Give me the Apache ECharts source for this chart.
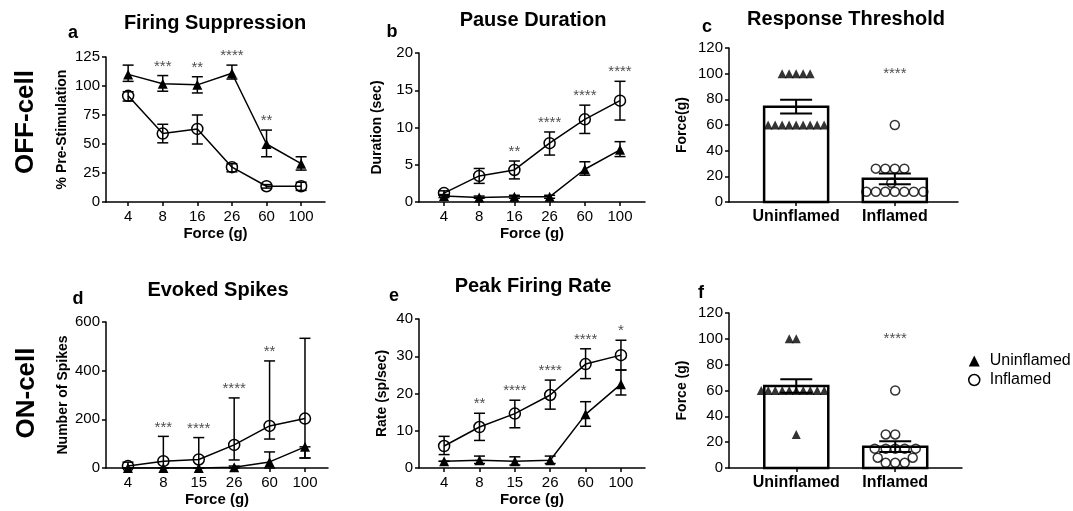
<!DOCTYPE html>
<html><head><meta charset="utf-8">
<script src="https://cdn.jsdelivr.net/npm/echarts/dist/echarts.min.js"></script>
<style>html,body{margin:0;padding:0;background:#fff}#c{width:1073px;height:511px}</style>
</head><body><div id="c"></div>
<script>
// ---------- DATA ----------
const forceTop = ['4','8','16','26','60','100'];
const forceBottom = ['4','8','15','26','60','100'];
const groupLabels = ['Uninflamed','Inflamed'];

// a: Firing Suppression (% Pre-Stimulation)
const aUnMean = [110,102,101,111,50,33];
const aUnLow  = [104,95.5,94,106,39,27.5];
const aUnHigh = [118,109,108,118,62,39];
const aInMean = [91.5,59,63,30,13.6,13.6];
const aInLow  = [87,51,50,26,12,10];
const aInHigh = [95,67,75,33,15,17];
const aStars  = ['','***','**','****','**',''];

// b: Pause Duration (sec)
const bUnMean = [0.8,0.6,0.7,0.7,4.4,7.0];
const bUnLow  = [0.6,0.5,0.5,0.5,3.6,6.1];
const bUnHigh = [1.0,0.8,0.9,0.9,5.4,8.1];
const bInMean = [1.2,3.5,4.3,7.9,11.1,13.6];
const bInLow  = [0.9,2.5,3.1,6.3,9.2,11.0];
const bInHigh = [1.5,4.5,5.5,9.4,13.0,16.2];
const bStars  = ['','','**','****','****','****'];

// c: Response Threshold (individual cells, g)
const cUnVals = [100,100,100,100,100,60,60,60,60,60,60,60,60,60];
const cInVals = [60,26,26,26,26,15,8,8,8,8,8,8,8];
const cStar = '****';

// d: Evoked Spikes
const dUnMean = [0,0,0,3,25,87];
const dUnLow  = [0,0,0,0,0,41];
const dUnHigh = [0,0,0,8,66,87];
const dInMean = [8,28,35,95,173,203];
const dInLow  = [0,0,0,33,119,41];
const dInHigh = [24,130,125,288,440,533];
const dStars  = ['','***','****','****','**',''];

// e: Peak Firing Rate (sp/sec)
const eUnMean = [1.8,2.1,1.8,2.1,14.4,22.5];
const eUnLow  = [1.8,1.2,0.8,1.2,11.2,19.6];
const eUnHigh = [1.8,3.2,3.0,3.2,17.8,26.3];
const eInMean = [5.9,11,14.6,19.6,27.9,30.3];
const eInLow  = [3.6,7.4,10.8,15.8,24,26.3];
const eInHigh = [8.5,14.7,18.2,23.6,32,34.3];
const eStars  = ['','**','****','****','****','*'];

// f: ON-cell threshold (g)
const fUnVals = [100,100,60,60,60,60,60,60,60,60,60,60,26];
const fInVals = [60,26,26,15,15,15,15,15,8,8,4,4,4];
const fStar = '****';

// ---------- HELPERS ----------
const FONT = '"Liberation Sans", Arial, Helvetica, sans-serif';
const BLACK = '#000';

const grids = [
  {left:106, top:57,  width:219, height:145},
  {left:419, top:53,  width:226, height:149},
  {left:729, top:48,  width:229, height:154},
  {left:106, top:322, width:222, height:146},
  {left:419, top:319, width:226, height:149},
  {left:729, top:313, width:233, height:155}
];
const xRanges = [[-0.64,5.69],[-0.71,5.71],[-0.68,1.64],[-0.62,5.65],[-0.71,5.68],[-0.68,1.675]];
const yMax = [125,20,120,600,40,120];

function mkX(i, labels, name, catBold){
  const vals = labels.map((_,k)=>k);
  return {
    type:'value', gridIndex:i, min:xRanges[i][0], max:xRanges[i][1],
    axisLine:{show:true, onZero:false, lineStyle:{color:BLACK, width:1.5}},
    axisTick:{show:true, customValues:vals, length:4, lineStyle:{color:BLACK, width:1.5}},
    axisLabel:{show:true, customValues:vals, formatter:v=>labels[Math.round(v)], color:BLACK,
      fontSize: catBold?16:15, fontWeight: catBold?'bold':'normal', fontFamily:FONT, margin:7},
    splitLine:{show:false},
    name:name||'', nameLocation:'middle', nameGap:24,
    nameTextStyle:{fontSize:15, fontWeight:'bold', color:BLACK, fontFamily:FONT}
  };
}
function mkY(i, interval, name, gap){
  return {
    type:'value', gridIndex:i, min:0, max:yMax[i], interval:interval,
    axisLine:{show:true, onZero:false, lineStyle:{color:BLACK, width:1.5}},
    axisTick:{show:true, length:4, lineStyle:{color:BLACK, width:1.5}},
    axisLabel:{color:BLACK, fontSize:15, fontFamily:FONT, margin:6},
    splitLine:{show:false},
    name:name, nameLocation:'middle', nameGap:gap,
    nameTextStyle:{fontSize:14, fontWeight:'bold', color:BLACK, fontFamily:FONT}
  };
}
function errRender(capPx, lw){
  return function(params, api){
    const x = api.value(0), lo = api.value(1), hi = api.value(2);
    const a = api.coord([x, lo]), b = api.coord([x, hi]);
    const h = capPx/2;
    const st = {stroke:BLACK, lineWidth:lw, fill:null};
    return {type:'group', children:[
      {type:'line', shape:{x1:a[0],y1:a[1],x2:b[0],y2:b[1]}, style:st},
      {type:'line', shape:{x1:a[0]-h,y1:a[1],x2:a[0]+h,y2:a[1]}, style:st},
      {type:'line', shape:{x1:b[0]-h,y1:b[1],x2:b[0]+h,y2:b[1]}, style:st}
    ]};
  };
}
function errSeries(i, low, high, capPx, lw, z){
  return {type:'custom', xAxisIndex:i, yAxisIndex:i, silent:true, z:z||2, clip:false,
    encode:{x:0, y:[1,2]},
    data: low.map((l,k)=>[k, l, high[k]]), renderItem: errRender(capPx, lw)};
}
function lineSeries(i, mean, kind, name){
  const tri = kind==='tri';
  return {type:'line', name:name, xAxisIndex:i, yAxisIndex:i, silent:true, z:3,
    data: mean.map((v,k)=>[k,v]),
    symbol: tri?'triangle':'circle', symbolSize: tri?10:11,
    lineStyle:{color:BLACK, width:1.5},
    itemStyle: tri?{color:BLACK}:{color:'rgba(0,0,0,0)', borderColor:BLACK, borderWidth:1.5},
    emphasis:{disabled:true}};
}
function starSeries(i, data, offsetY){
  return {type:'scatter', xAxisIndex:i, yAxisIndex:i, silent:true, z:5,
    symbol:'circle', symbolSize:0, data:data,
    label:{show:true, position:'inside', offset:[0,offsetY], formatter:'{b}', color:'#222',
      fontSize:15, fontFamily:FONT}};
}
function lineStars(stars, unHigh, inHigh){
  const out = [];
  stars.forEach((s,k)=>{ if(s) out.push({name:s, value:[k, Math.max(unHigh[k], inHigh[k])]}); });
  return out;
}
function linePanel(i, un, unLo, unHi, inn, inLo, inHi, stars, names){
  return [
    errSeries(i, unLo, unHi, 11, 1.5),
    errSeries(i, inLo, inHi, 11, 1.5),
    lineSeries(i, un, 'tri', names?names[0]:'un'+i),
    lineSeries(i, inn, 'circ', names?names[1]:'in'+i),
    starSeries(i, lineStars(stars, unHi, inHi), -9)
  ];
}
function mean(a){ return a.reduce((s,v)=>s+v,0)/a.length; }
function sem(a){ const m=mean(a); const v=a.reduce((s,x)=>s+(x-m)*(x-m),0)/(a.length-1); return Math.sqrt(v/a.length); }
// greedy beeswarm: points placed from lowest value up, nearest-to-centre free slot
function swarm(vals, g, diam, pxPerX, pxPerY){
  const order = vals.map((v,k)=>k).sort((p,q)=>vals[p]-vals[q]);
  const placed = [];
  const out = new Array(vals.length);
  order.forEach(k=>{
    const py = vals[k]*pxPerY;
    let best = 0;
    for(let s=0; s<400; s++){
      const cand = (s%2===0 ? 1 : -1) * Math.ceil(s/2) * 0.5;
      if(placed.every(p=>Math.hypot(p[0]-cand, p[1]-py) >= diam - 0.01)){ best = cand; break; }
    }
    placed.push([best, py]);
    out[k] = [g + best/pxPerX, vals[k]];
  });
  return out;
}
function barPanel(i, unVals, inVals, star){
  const pxPerX = grids[i].width/(xRanges[i][1]-xRanges[i][0]);
  const pxPerY = grids[i].height/yMax[i];
  const means = [mean(unVals), mean(inVals)];
  const sems = [sem(unVals), sem(inVals)];
  return [
    {type:'custom', xAxisIndex:i, yAxisIndex:i, silent:true, z:1, clip:false,
      encode:{x:0,y:1}, data: means.map((m,k)=>[k,m]),
      renderItem:function(params, api){
        const x=api.value(0), m=api.value(1);
        const p0=api.coord([x,0]), p1=api.coord([x,m]);
        return {type:'rect', shape:{x:p0[0]-32, y:p1[1], width:64, height:p0[1]-p1[1]},
          style:{fill:'#fff', stroke:BLACK, lineWidth:2.5}};
      }},
    {type:'scatter', xAxisIndex:i, yAxisIndex:i, silent:true, z:3, symbol:'triangle', symbolSize:9,
      itemStyle:{color:BLACK}, data: swarm(unVals, 0, 7, pxPerX, pxPerY)},
    {type:'scatter', xAxisIndex:i, yAxisIndex:i, silent:true, z:3, symbol:'circle', symbolSize:9,
      itemStyle:{color:'rgba(0,0,0,0)', borderColor:BLACK, borderWidth:1.5}, data: swarm(inVals, 1, 9.5, pxPerX, pxPerY)},
    errSeries(i, means.map((m,k)=>m-sems[k]), means.map((m,k)=>m+sems[k]), 32, 2, 4),
    starSeries(i, [{name:star, value:[1, Math.max(...unVals, ...inVals)]}], 0)
  ];
}

// ---------- OPTION ----------
const series = [].concat(
  linePanel(0, aUnMean, aUnLow, aUnHigh, aInMean, aInLow, aInHigh, aStars, ['Uninflamed','Inflamed']),
  linePanel(1, bUnMean, bUnLow, bUnHigh, bInMean, bInLow, bInHigh, bStars),
  barPanel(2, cUnVals, cInVals, cStar),
  linePanel(3, dUnMean, dUnLow, dUnHigh, dInMean, dInLow, dInHigh, dStars),
  linePanel(4, eUnMean, eUnLow, eUnHigh, eInMean, eInLow, eInHigh, eStars),
  barPanel(5, fUnVals, fInVals, fStar)
);

function txt(t, x, y, size, rot){
  return {type:'text', x:x, y:y, rotation:rot||0, silent:true,
    style:{text:t, font:'bold '+size+'px '+FONT, fill:BLACK, textAlign:'center', textVerticalAlign:'middle'}};
}

const option = {
  animation:false,
  backgroundColor:'#fff',
  grid: grids.map(g=>Object.assign({containLabel:false}, g)),
  xAxis: [
    mkX(0, forceTop, 'Force (g)'),
    mkX(1, forceTop, 'Force (g)'),
    mkX(2, groupLabels, '', true),
    mkX(3, forceBottom, 'Force (g)'),
    mkX(4, forceBottom, 'Force (g)'),
    mkX(5, groupLabels, '', true)
  ],
  yAxis: [
    mkY(0, 25, '% Pre-Stimulation', 37),
    mkY(1, 5, 'Duration (sec)', 35),
    mkY(2, 20, 'Force(g)', 40),
    mkY(3, 200, 'Number of Spikes', 36),
    mkY(4, 10, 'Rate (sp/sec)', 30),
    mkY(5, 20, 'Force (g)', 40)
  ],
  legend:{left:963, top:348, orient:'vertical', itemWidth:11, itemHeight:11, itemGap:3,
    selectedMode:false,
    textStyle:{fontSize:16, fontFamily:FONT, color:BLACK, padding:[0,0,0,5]},
    data:[
      {name:'Uninflamed', icon:'triangle', itemStyle:{color:BLACK}},
      {name:'Inflamed', icon:'circle', itemStyle:{color:'rgba(0,0,0,0)', borderColor:BLACK, borderWidth:1.5}}
    ]},
  graphic:[
    txt('Firing Suppression', 215, 23, 20),
    txt('Pause Duration', 533, 20, 20),
    txt('Response Threshold', 846, 19, 20),
    txt('Evoked Spikes', 218, 290, 20),
    txt('Peak Firing Rate', 533, 286, 20),
    txt('a', 73, 33, 18), txt('b', 392, 32, 18), txt('c', 707, 27, 18),
    txt('d', 78, 299, 18), txt('e', 394, 296, 18), txt('f', 701, 293, 18),
    txt('OFF-cell', 26, 122, 26, Math.PI/2),
    txt('ON-cell', 27, 393, 26, Math.PI/2)
  ],
  series: series
};
const chart = echarts.init(document.getElementById('c'), null, {renderer:'canvas'});
chart.setOption(option);
</script></body></html>
